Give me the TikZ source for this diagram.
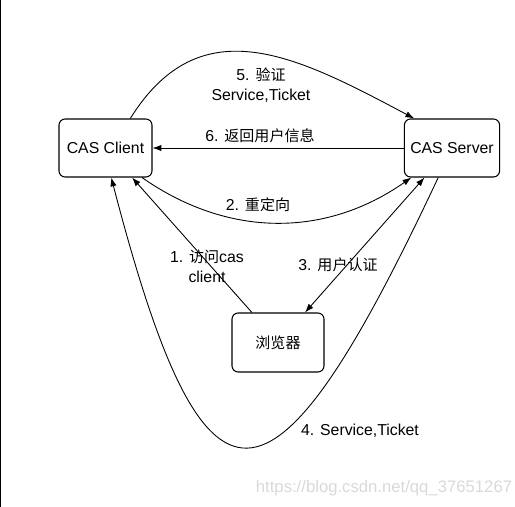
\documentclass[tikz,border=0pt]{standalone}
\usepackage{fontspec}
\setmainfont{Liberation Sans}
\newfontfamily\cjk[Scale=0.95]{Noto Sans CJK SC}
\usetikzlibrary{arrows.meta}

\begin{document}
\begin{tikzpicture}[>={Latex[length=5pt,width=3.6pt]}, line width=0.5pt, font=\fontsize{9}{11.3}\selectfont]
	\tikzstyle{box}=[draw, rounded corners=3.5pt, minimum width=1.86cm, minimum height=1.16cm, line width=0.6pt];
	\tikzstyle{lbl}=[align=center, inner sep=1pt];

	\useasboundingbox (0,0) rectangle (10.3,-10.14);
	\fill (0,0) rectangle (0.03,-10.14);

	% the three parties
	\node[box] (client) at (2.11,-2.96) {CAS Client};
	\node[box] (server) at (9.04,-2.96) {CAS Server};
	\node[box, minimum width=1.84cm, minimum height=1.18cm] (browser) at (5.56,-6.85) {\cjk 浏览器};

	% steps
	\draw[->] (browser.131) -- (client.-48);
	\draw[->] (client.-39) to[bend right=35] (server.-144);
	\draw[<->] (server.-133) -- (browser.48);
	\draw[->] (server.-115) .. controls (5.4,-10.72) and (4.1,-10.76) .. (client.-79);
	\draw[->] (client.50) to[out=58, in=152, looseness=1.2] (server.142);
	\draw[->] (server.west) -- (client.east);

	\node[lbl] (l1) at (4.14,-5.32) {1. {\cjk 访问}cas\\client};
	\node[lbl] (l2) at (5.16,-4.1) {2. {\cjk 重定向}};
	\node[lbl] (l3) at (6.76,-5.3) {3. {\cjk 用户认证}};
	\node[lbl] (l4) at (7.2,-8.62) {4. Service,Ticket};
	\node[lbl] (l5) at (5.22,-1.7) {5. {\cjk 验证}\\Service,Ticket};
	\node[lbl] (l6) at (5.2,-2.72) {6. {\cjk 返回用户信息}};

	\node[text=gray!30, font=\fontsize{9.5}{11}\selectfont] (mark) at (7.68,-9.76) {https://blog.csdn.net/qq\_37651267};
\end{tikzpicture}
\end{document}
